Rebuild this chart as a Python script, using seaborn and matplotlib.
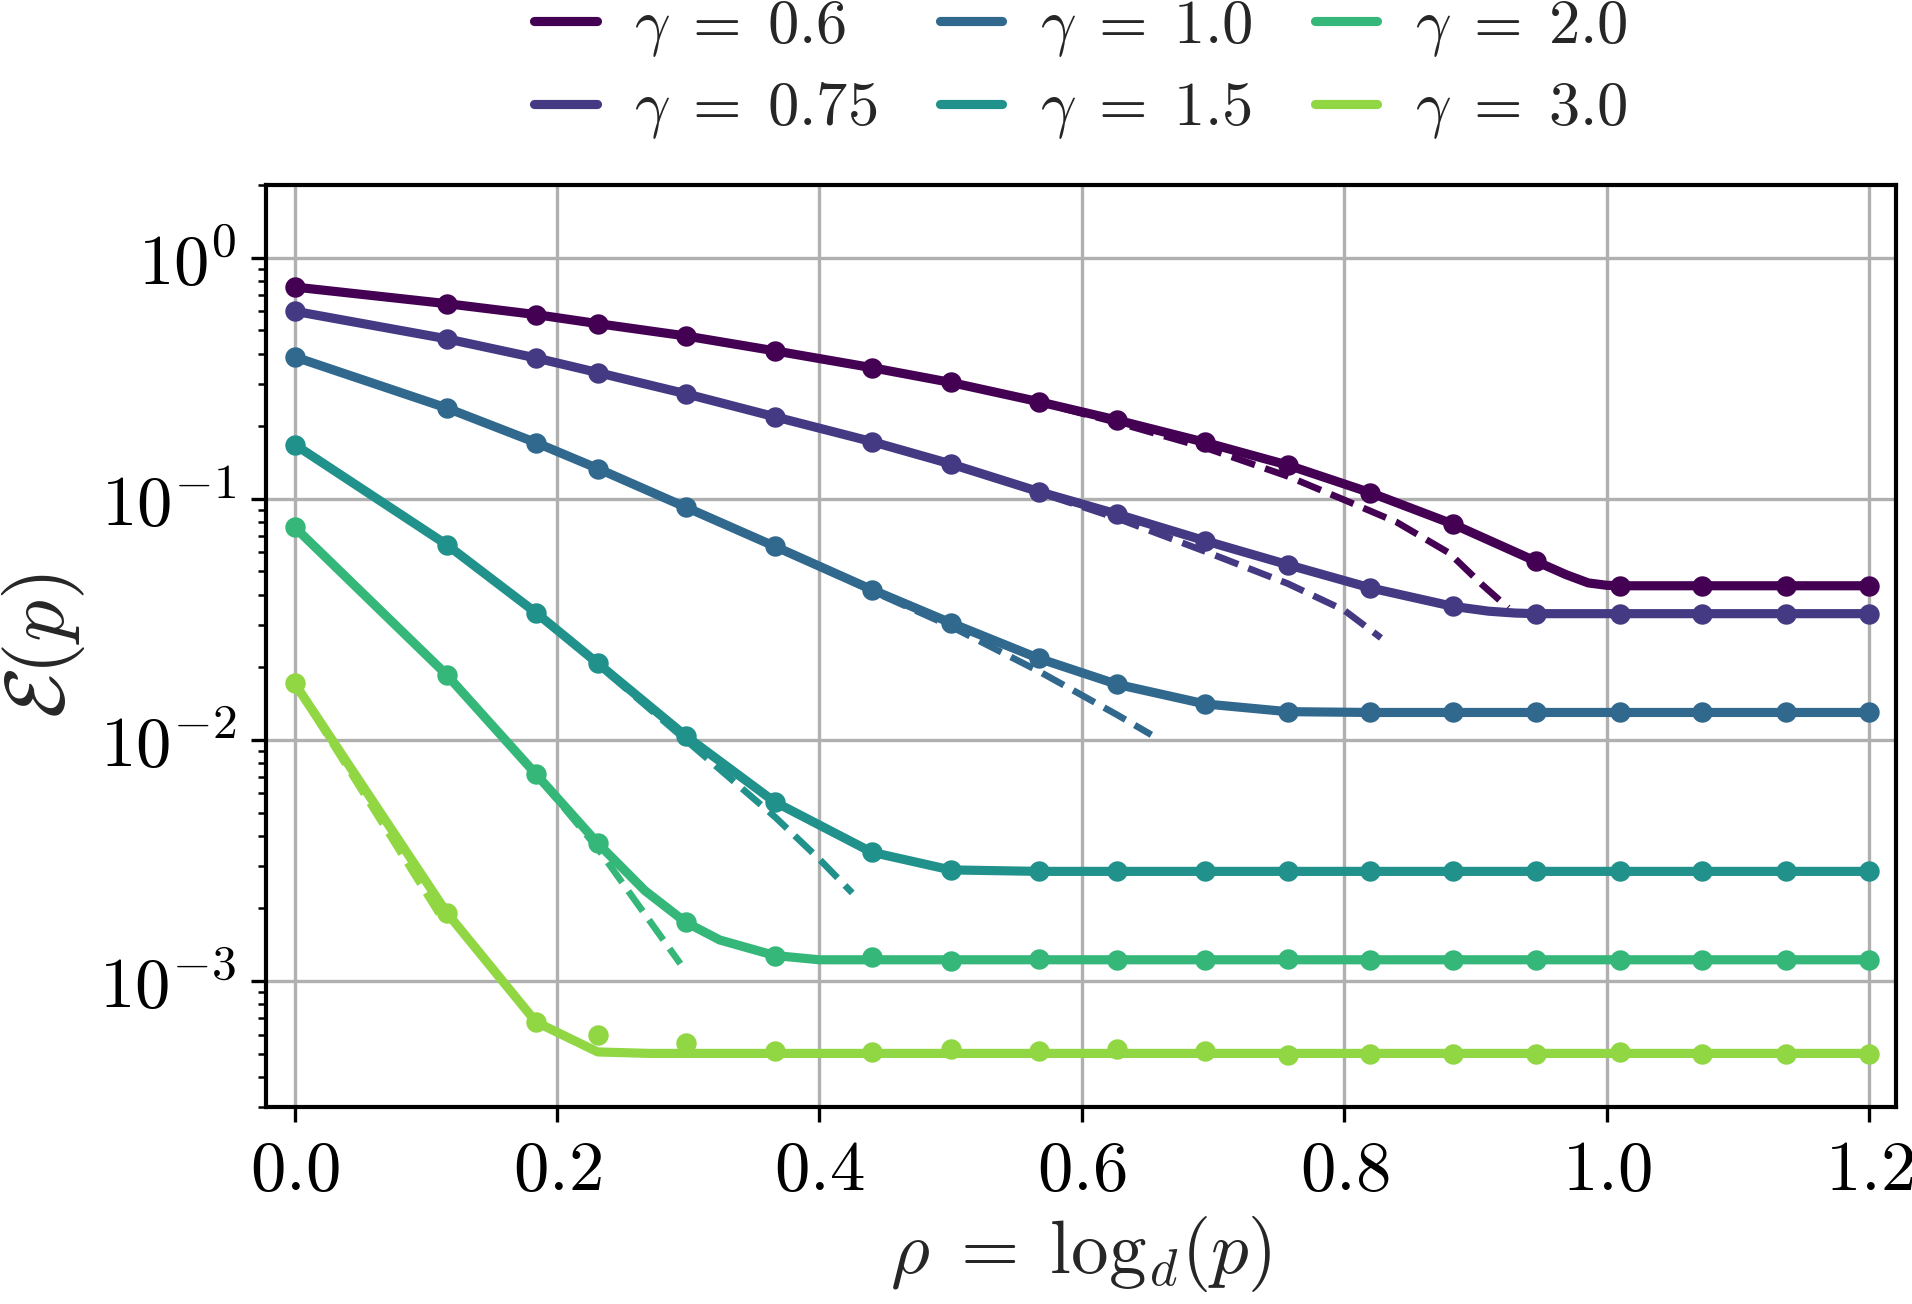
import numpy as np
import matplotlib
matplotlib.use("Agg")
import matplotlib.pyplot as plt
from matplotlib.ticker import FixedLocator, FuncFormatter, LogLocator, NullFormatter
import seaborn as sns

# gamma values shown in the legend
gammas = ["0.6", "0.75", "1.0", "1.5", "2.0", "3.0"]

# simulation points (dots), same rho grid for every gamma
rho_sim = [0.0, 0.116, 0.184, 0.231, 0.298, 0.366, 0.44, 0.5, 0.567, 0.627,
           0.694, 0.757, 0.82, 0.883, 0.946, 1.01, 1.073, 1.137, 1.2]
sim_06 = [0.756, 0.645, 0.581, 0.533, 0.474, 0.411, 0.350, 0.304, 0.253, 0.212,
          0.1715, 0.138, 0.106, 0.0785, 0.0551, 0.0436, 0.0436, 0.0436, 0.0436]
sim_075 = [0.600, 0.461, 0.384, 0.334, 0.273, 0.219, 0.1727, 0.1396, 0.1072, 0.0864,
           0.067, 0.0533, 0.0427, 0.0358, 0.0334, 0.0334, 0.0334, 0.0334, 0.0334]
sim_10 = [0.388, 0.238, 0.171, 0.1336, 0.0924, 0.0635, 0.042, 0.0306, 0.0218, 0.0170,
          0.0141, 0.0131, 0.0130, 0.0130, 0.0130, 0.0130, 0.0130, 0.0130, 0.0130]
sim_15 = [0.168, 0.0645, 0.0337, 0.0208, 0.0104, 0.00553, 0.00342, 0.00289, 0.00285, 0.00285,
          0.00285, 0.00285, 0.00285, 0.00285, 0.00285, 0.00285, 0.00285, 0.00285, 0.00285]
sim_20 = [0.0763, 0.0186, 0.00721, 0.00373, 0.001754, 0.001276, 0.001256, 0.00121, 0.00123, 0.00122,
          0.00122, 0.00123, 0.00122, 0.00122, 0.00122, 0.00122, 0.00122, 0.00122, 0.00122]
sim_30 = [0.01716, 0.00192, 0.000676, 0.000596, 0.000551, 0.000513, 0.000508, 0.000525, 0.000513, 0.000525,
          0.000513, 0.000495, 0.0005, 0.0005, 0.0005, 0.00051, 0.0005, 0.0005, 0.0005]

# theory curves (solid)
th_rho_06 = [0.0, 0.116, 0.184, 0.231, 0.298, 0.366, 0.44, 0.5, 0.567, 0.627, 0.694,
             0.757, 0.82, 0.883, 0.946, 0.969, 0.986, 1.0, 1.01, 1.2]
th_06 = [0.756, 0.645, 0.581, 0.533, 0.474, 0.411, 0.350, 0.304, 0.253, 0.212, 0.1715,
         0.138, 0.106, 0.0785, 0.0551, 0.0485, 0.0448, 0.0438, 0.0436, 0.0436]
th_rho_075 = [0.0, 0.116, 0.184, 0.231, 0.298, 0.366, 0.44, 0.5, 0.567, 0.627, 0.694,
              0.757, 0.82, 0.883, 0.91, 0.93, 0.946, 1.2]
th_075 = [0.600, 0.461, 0.384, 0.334, 0.273, 0.219, 0.1727, 0.1396, 0.1072, 0.0864, 0.067,
          0.0533, 0.0427, 0.0358, 0.0342, 0.0336, 0.0334, 0.0334]
th_rho_10 = [0.0, 0.116, 0.184, 0.231, 0.298, 0.366, 0.44, 0.5, 0.567, 0.627, 0.694, 0.757, 0.82, 1.2]
th_10 = [0.388, 0.238, 0.171, 0.1336, 0.0924, 0.0635, 0.042, 0.0306, 0.0218, 0.017, 0.0141, 0.0131, 0.0130, 0.0130]
th_rho_15 = [0.0, 0.116, 0.184, 0.231, 0.298, 0.366, 0.44, 0.5, 0.567, 1.2]
th_15 = [0.168, 0.0645, 0.0337, 0.0208, 0.0104, 0.00553, 0.00342, 0.00289, 0.00285, 0.00285]
th_rho_20 = [0.0, 0.116, 0.184, 0.231, 0.267, 0.298, 0.324, 0.366, 0.4, 1.2]
th_20 = [0.0763, 0.0186, 0.00721, 0.00373, 0.00237, 0.001754, 0.00148, 0.001276, 0.001225, 0.001225]
th_rho_30 = [0.0, 0.116, 0.184, 0.231, 0.27, 1.2]
th_30 = [0.01716, 0.00192, 0.000676, 0.000508, 0.000501, 0.000501]

# asymptotic curves (dashed)
as_rho_06 = [0.0, 0.116, 0.184, 0.231, 0.298, 0.366, 0.44, 0.5, 0.567, 0.627, 0.694,
             0.757, 0.8, 0.84, 0.88, 0.905, 0.925]
as_06 = [0.756, 0.645, 0.581, 0.533, 0.474, 0.411, 0.350, 0.303, 0.252, 0.207, 0.163,
         0.124, 0.099, 0.080, 0.0596, 0.0441, 0.0353]
as_rho_075 = [0.0, 0.116, 0.184, 0.231, 0.298, 0.366, 0.44, 0.5, 0.567, 0.627, 0.694, 0.757, 0.8, 0.828]
as_075 = [0.600, 0.461, 0.384, 0.334, 0.273, 0.219, 0.1727, 0.1396, 0.1065, 0.083, 0.0605, 0.0445, 0.0345, 0.0265]
as_rho_10 = [0.0, 0.116, 0.184, 0.231, 0.298, 0.366, 0.44, 0.5, 0.567, 0.627, 0.653]
as_10 = [0.388, 0.238, 0.171, 0.1336, 0.0924, 0.0635, 0.0415, 0.0296, 0.0193, 0.0127, 0.0105]
as_rho_15 = [0.0, 0.116, 0.184, 0.231, 0.298, 0.366, 0.4, 0.425]
as_15 = [0.168, 0.0645, 0.0337, 0.0206, 0.0100, 0.0048, 0.0032, 0.00232]
as_rho_20 = [0.0, 0.116, 0.184, 0.231, 0.294]
as_20 = [0.0763, 0.0186, 0.00721, 0.00355, 0.00118]
as_rho_30 = [0.0, 0.114]
as_30 = [0.01716, 0.00175]

sims = [sim_06, sim_075, sim_10, sim_15, sim_20, sim_30]
theory = [(th_rho_06, th_06), (th_rho_075, th_075), (th_rho_10, th_10),
          (th_rho_15, th_15), (th_rho_20, th_20), (th_rho_30, th_30)]
asym = [(as_rho_06, as_06), (as_rho_075, as_075), (as_rho_10, as_10),
        (as_rho_15, as_15), (as_rho_20, as_20), (as_rho_30, as_30)]

colors = plt.cm.viridis(np.linspace(0, 1, 7))[:6]

sns.set_style("ticks", {"axes.grid": True, "grid.color": "#b0b0b0"})
plt.rcParams.update({
    "mathtext.fontset": "cm",
    "font.family": ["DejaVu Serif"],
    "axes.edgecolor": "black",
    "axes.linewidth": 1.0,
    "xtick.color": "black",
    "ytick.color": "black",
    "grid.linewidth": 0.8,
})

fig = plt.figure(figsize=(1912 / 300, 1304 / 300), dpi=300)
ax = fig.add_axes([0.139, 0.151, 0.8526, 0.707])

for i, g in enumerate(gammas):
    c = colors[i]
    sns.lineplot(x=theory[i][0], y=theory[i][1], color=c, lw=2.2, sort=False,
                 estimator=None, label=r"$\gamma\;=\;%s$" % g, ax=ax, zorder=3)
    sns.lineplot(x=asym[i][0], y=asym[i][1], color=c, lw=1.6, linestyle="--",
                 sort=False, estimator=None, ax=ax, zorder=3, legend=False)
    sns.scatterplot(x=rho_sim, y=sims[i], color=c, s=24, linewidth=0, ax=ax,
                    zorder=4, legend=False)

ax.set_yscale("log")
ax.set_xlim(-0.022, 1.2205)
ax.set_ylim(3e-4, 2.0)

ax.xaxis.set_major_locator(FixedLocator([0.0, 0.2, 0.4, 0.6, 0.8, 1.0, 1.2]))
ax.xaxis.set_major_formatter(FuncFormatter(lambda v, pos: r"$%.1f$" % v))
ax.yaxis.set_major_locator(LogLocator(base=10, numticks=10))
ax.yaxis.set_minor_locator(LogLocator(base=10, subs=np.arange(2, 10), numticks=20))
ax.yaxis.set_major_formatter(FuncFormatter(lambda v, pos: r"$10^{%d}$" % round(np.log10(v))))
ax.yaxis.set_minor_formatter(NullFormatter())
ax.tick_params(axis="both", which="major", labelsize=17, length=3.5, width=0.8)
ax.tick_params(axis="y", which="minor", length=2, width=0.6)
ax.grid(True, which="major", color="#b0b0b0", lw=0.8)
ax.grid(False, which="minor")
for s in ax.spines.values():
    s.set_visible(True)
    s.set_color("black")

ax.set_xlabel(r"$\rho\;=\;\mathrm{log}_d(p)$", fontsize=18, labelpad=2)
ax.set_ylabel(r"$\mathcal{E}(p)$", fontsize=20, labelpad=3)

ax.legend(loc="lower center", bbox_to_anchor=(0.5, 1.0), ncol=3, frameon=False,
          fontsize=15, handlelength=1.0, handletextpad=0.6, columnspacing=1.0,
          labelspacing=0.3, borderaxespad=0.3)

fig.savefig("out.png", dpi=300)
